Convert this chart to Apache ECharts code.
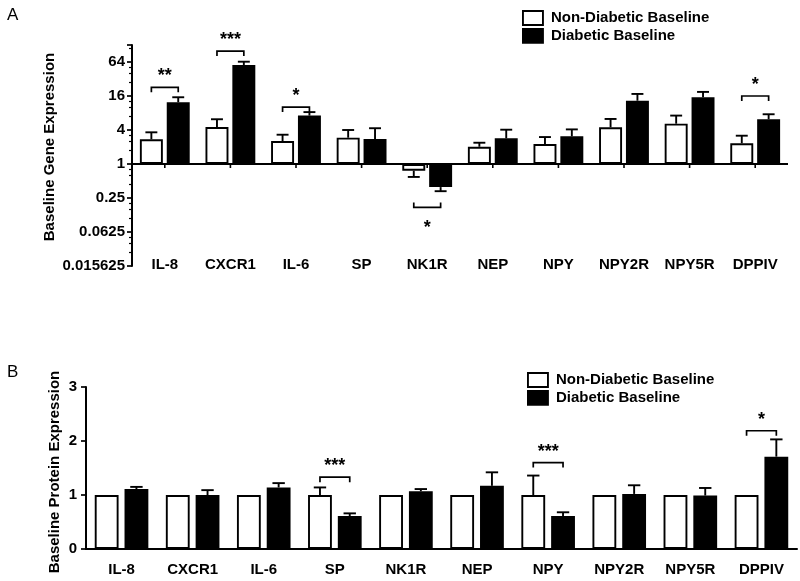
<!DOCTYPE html>
<html><head><meta charset="utf-8">
<script src="https://cdn.jsdelivr.net/npm/echarts@6/dist/echarts.min.js"></script>
<style>html,body{margin:0;padding:0;background:#fff}#c{width:800px;height:581px}</style>
</head><body><div id="c"></div>
<script>
// ---------- data ----------
const categories = ['IL-8','CXCR1','IL-6','SP','NK1R','NEP','NPY','NPY2R','NPY5R','DPPIV'];
const seriesNames = ['Non-Diabetic Baseline','Diabetic Baseline'];

// Panel A (gene expression, log2 axis)
const geneNonDiabetic    = [2.74, 4.5, 2.55, 2.92, 0.76, 2.02, 2.26, 4.47, 5.17, 2.33];
const geneNonDiabeticErr = [3.64, 6.2, 3.3, 4.0, 0.59, 2.38, 3.0, 6.27, 7.2, 3.17];
const geneDiabetic       = [12.4, 56.6, 7.2, 2.77, 0.39, 2.85, 3.09, 13.2, 15.2, 6.2];
const geneDiabeticErr    = [15.2, 64.8, 8.3, 4.3, 0.33, 4.05, 4.1, 17.4, 18.9, 7.6];
const geneSig = [ // [category index, bracket value, stars, direction]
  [0, 22.8, '**', 1], [1, 100, '***', 1], [2, 10.2, '*', 1], [4, 0.17, '*', -1], [9, 16, '*', 1]
];
const geneTickLabels = ['0.015625','0.0625','0.25','1','4','16','64'];

// Panel B (protein expression)
const proteinNonDiabetic    = [1, 1, 1, 1, 1, 1, 1, 1, 1, 1];
const proteinNonDiabeticErr = [1, 1, 1, 1.14, 1, 1, 1.36, 1, 1, 1];
const proteinDiabetic       = [1.11, 1.0, 1.14, 0.61, 1.07, 1.17, 0.61, 1.02, 0.99, 1.71];
const proteinDiabeticErr    = [1.15, 1.09, 1.22, 0.66, 1.11, 1.42, 0.68, 1.18, 1.13, 2.03];
const proteinSig = [
  [3, 1.33, '***', 1], [6, 1.60, '***', 1], [9, 2.19, '*', 1]
];
const proteinTickLabels = ['0','1','2','3'];

// ---------- helpers ----------
const FONT = '"Liberation Sans", Arial, sans-serif';
const A_BW = 0.35, A_GAP = 0.17;
const B_BW = 0.335, B_GAP = 0.25;
const LW = 1.9;

function barOffset(band, bw, gap, side) {
  const w = band * bw;
  return { w: w, dx: (w + w * gap) / 2 * (side ? 1 : -1) };
}
function errData(vals, errs, side) {
  return vals.map((v, i) => [i, v, errs[i], side]);
}
function errRender(bw, gap) {
  return function (params, api) {
    const idx = api.value(0), val = api.value(1), err = api.value(2), side = api.value(3);
    if (err === val) return null;
    const band = api.size([1, 1])[0];
    const o = barOffset(band, bw, gap, side);
    const p0 = api.coord([idx, val]);
    const p1 = api.coord([idx, err]);
    const x = p0[0] + o.dx;
    const cap = o.w * 0.26;
    const st = { stroke: '#000', lineWidth: LW };
    return { type: 'group', children: [
      { type: 'line', shape: { x1: x, y1: p0[1], x2: x, y2: p1[1] }, style: st },
      { type: 'line', shape: { x1: x - cap, y1: p1[1], x2: x + cap, y2: p1[1] }, style: st }
    ]};
  };
}
function sigRender(bw, gap, sig) {
  return function (params, api) {
    const s = sig[params.dataIndex];
    const band = api.size([1, 1])[0];
    const a = barOffset(band, bw, gap, 0), b = barOffset(band, bw, gap, 1);
    const p = api.coord([s[0], s[1]]);
    const x1 = p[0] + a.dx, x2 = p[0] + b.dx, y = p[1];
    const dir = s[3];
    const leg = 5 * dir;
    const st = { stroke: '#000', lineWidth: 1.7, fill: null };
    return { type: 'group', children: [
      { type: 'polyline', shape: { points: [[x1, y + leg], [x1, y], [x2, y], [x2, y + leg]] }, style: st },
      { type: 'text', x: (x1 + x2) / 2, y: dir > 0 ? y - 11 : y + 21,
        style: { text: s[2], font: 'bold 18px ' + FONT, fill: '#000', textAlign: 'center', textVerticalAlign: 'middle' } }
    ]};
  };
}
function tickRender(params, api) {
  const p = api.coord([api.value(0), 1]);
  return { type: 'line', shape: { x1: p[0], y1: p[1], x2: p[0], y2: p[1] + 4 }, style: { stroke: '#000', lineWidth: 1.6 } };
}

const whiteStyle = { color: '#fff', borderColor: '#000', borderWidth: LW };
const blackStyle = { color: '#000', borderColor: '#000', borderWidth: LW };
const labelStyle = { color: '#000', fontFamily: FONT, fontWeight: 'bold', fontSize: 15 };

const chart = echarts.init(document.getElementById('c'), null, { renderer: 'canvas' });
chart.setOption({
  backgroundColor: '#fff',
  animation: false,
  textStyle: { fontFamily: FONT },
  grid: [
    { left: 132, right: 12, top: 45, bottom: 315 },
    { left: 86, right: 3, top: 387, bottom: 32 }
  ],
  legend: [
    { left: 517, top: 5, orient: 'vertical', itemWidth: 20, itemHeight: 14, itemGap: 2, icon: 'rect',
      textStyle: { fontFamily: FONT, fontWeight: 'bold', fontSize: 15, color: '#000', padding: [0, 0, 0, 3] },
      data: [{ name: seriesNames[0], itemStyle: whiteStyle }, { name: seriesNames[1], itemStyle: blackStyle }] },
    { left: 522, top: 367, orient: 'vertical', itemWidth: 20, itemHeight: 14, itemGap: 2, icon: 'rect',
      textStyle: { fontFamily: FONT, fontWeight: 'bold', fontSize: 15, color: '#000', padding: [0, 0, 0, 3] },
      data: [{ name: seriesNames[0], itemStyle: whiteStyle }, { name: seriesNames[1], itemStyle: blackStyle }] }
  ],
  xAxis: [
    { type: 'category', gridIndex: 0, data: categories, position: 'bottom',
      axisLine: { show: false }, axisTick: { show: false },
      axisLabel: Object.assign({ margin: -9, interval: 0 }, labelStyle) },
    { type: 'category', gridIndex: 1, data: categories,
      axisLine: { lineStyle: { color: '#000', width: 2 } }, axisTick: { show: false },
      axisLabel: Object.assign({ margin: 13, interval: 0 }, labelStyle) }
  ],
  yAxis: [
    { type: 'log', gridIndex: 0, logBase: 2, min: 0.015625, max: 128, interval: 2, splitNumber: 6,
      axisLine: { show: true, lineStyle: { color: '#000', width: 2 } },
      axisTick: { show: true, length: 5, lineStyle: { color: '#000', width: 1.7 } },
      minorTick: { show: true, splitNumber: 4, length: 3, lineStyle: { color: '#000', width: 1.2 } },
      splitLine: { show: false },
      axisLabel: Object.assign({ margin: 7, showMaxLabel: true,
        formatter: function (v) {
          const s = String(+(+v).toPrecision(6));
          return geneTickLabels.indexOf(s) >= 0 ? s : '';
        } }, labelStyle) },
    { type: 'value', gridIndex: 1, min: 0, max: 3, interval: 1,
      axisLine: { show: true, lineStyle: { color: '#000', width: 2 } },
      axisTick: { show: true, length: 5, lineStyle: { color: '#000', width: 1.7 } },
      splitLine: { show: false },
      axisLabel: Object.assign({ margin: 9, formatter: v => proteinTickLabels[v] }, labelStyle) }
  ],
  graphic: [
    { type: 'text', left: 7, top: 7, style: { text: 'A', font: '17px ' + FONT, fill: '#000' } },
    { type: 'text', left: 7, top: 364, style: { text: 'B', font: '17px ' + FONT, fill: '#000' } },
    { type: 'text', x: 50, y: 147, rotation: Math.PI / 2,
      style: { text: 'Baseline Gene Expression', font: 'bold 15px ' + FONT, fill: '#000', textAlign: 'center', textVerticalAlign: 'middle' } },
    { type: 'text', x: 55, y: 472, rotation: Math.PI / 2,
      style: { text: 'Baseline Protein Expression', font: 'bold 15px ' + FONT, fill: '#000', textAlign: 'center', textVerticalAlign: 'middle' } }
  ],
  series: [
    { name: seriesNames[0], type: 'bar', xAxisIndex: 0, yAxisIndex: 0, data: geneNonDiabetic,
      barWidth: (A_BW * 100) + '%', barGap: (A_GAP * 100) + '%', itemStyle: whiteStyle,
      markLine: { silent: true, symbol: 'none', label: { show: false },
        lineStyle: { color: '#000', width: 2, type: 'solid' }, data: [{ yAxis: 1 }] } },
    { name: seriesNames[1], type: 'bar', xAxisIndex: 0, yAxisIndex: 0, data: geneDiabetic,
      barWidth: (A_BW * 100) + '%', barGap: (A_GAP * 100) + '%', itemStyle: blackStyle },
    { type: 'custom', xAxisIndex: 0, yAxisIndex: 0, renderItem: errRender(A_BW, A_GAP),
      data: errData(geneNonDiabetic, geneNonDiabeticErr, 0).concat(errData(geneDiabetic, geneDiabeticErr, 1)), z: 3 },
    { type: 'custom', xAxisIndex: 0, yAxisIndex: 0, renderItem: sigRender(A_BW, A_GAP, geneSig),
      data: geneSig.map(s => [s[0], s[1]]), z: 3 },
    { type: 'custom', xAxisIndex: 0, yAxisIndex: 0, renderItem: tickRender,
      data: categories.map((c, i) => [i, 1]), z: 3 },

    { name: seriesNames[0], type: 'bar', xAxisIndex: 1, yAxisIndex: 1, data: proteinNonDiabetic,
      barWidth: (B_BW * 100) + '%', barGap: (B_GAP * 100) + '%', itemStyle: whiteStyle },
    { name: seriesNames[1], type: 'bar', xAxisIndex: 1, yAxisIndex: 1, data: proteinDiabetic,
      barWidth: (B_BW * 100) + '%', barGap: (B_GAP * 100) + '%', itemStyle: blackStyle },
    { type: 'custom', xAxisIndex: 1, yAxisIndex: 1, renderItem: errRender(B_BW, B_GAP),
      data: errData(proteinNonDiabetic, proteinNonDiabeticErr, 0).concat(errData(proteinDiabetic, proteinDiabeticErr, 1)), z: 3 },
    { type: 'custom', xAxisIndex: 1, yAxisIndex: 1, renderItem: sigRender(B_BW, B_GAP, proteinSig),
      data: proteinSig.map(s => [s[0], s[1]]), z: 3 }
  ]
});
</script>
</body></html>
